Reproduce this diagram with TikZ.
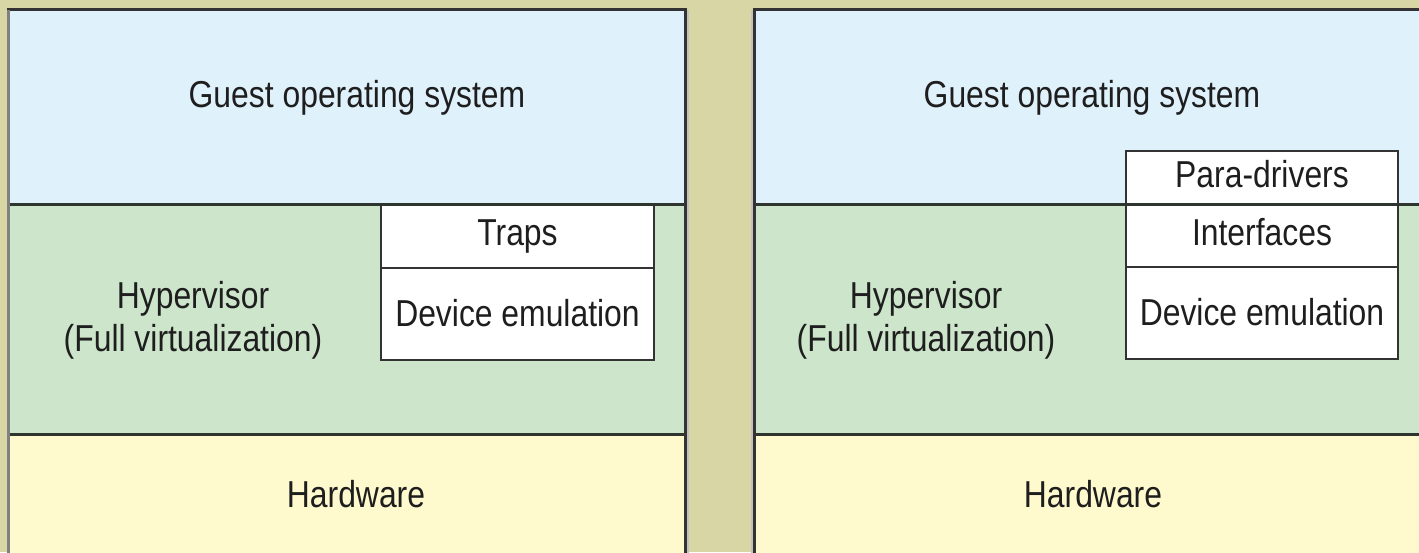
\documentclass[tikz,border=0pt]{standalone}
\usepackage{fontspec}
\setmainfont{Liberation Sans}[FakeStretch=0.85]
\usetikzlibrary{positioning}
\definecolor{bgsand}{HTML}{D9D6A5}
\definecolor{guestblue}{HTML}{DFF1FB}
\definecolor{hypgreen}{HTML}{CDE6CB}
\definecolor{hwyellow}{HTML}{FFFACD}
\definecolor{ruleline}{HTML}{2E352E}
\definecolor{boxline}{HTML}{333333}
\definecolor{rimgray}{HTML}{C2C2BC}
\definecolor{inkgray}{HTML}{1E1E1E}

\begin{document}
\begin{tikzpicture}[x=1pt, y=-1pt, node distance=0pt,
  font=\fontsize{37.5}{43}\selectfont,
  layer/.style={anchor=north west, inner sep=0pt, outer sep=0pt, minimum width=677pt},
  part/.style={fill=white, draw=boxline, line width=2.5pt, inner sep=0pt, outer sep=0pt,
    text height=27pt, text depth=8pt, text=inkgray},
  caption/.style={anchor=base, inner sep=0pt, text=inkgray, align=center},
  rule/.style={draw=ruleline, line width=3pt},
  rim/.style={draw=rimgray, line width=2.5pt}]
  \useasboundingbox (0,0) rectangle (1419,552);
  \fill[bgsand] (0,0) rectangle (1419,552);

  % full virtualization
  \node[layer, fill=guestblue, minimum height=194.5pt]  (guestL) at (8.5,9.5) {};
  \node[layer, fill=hypgreen,  minimum height=230pt]    (hypL) [below=of guestL] {};
  \node[layer, fill=hwyellow,  minimum height=140pt]    (hwL)  [below=of hypL]   {};

  \node[part, anchor=north west, minimum width=273pt, minimum height=64pt] (traps) at (381,204) {Traps};
  \node[part, text depth=3pt, minimum width=273pt, minimum height=92pt] (emuL) [below=of traps] {Device emulation};

  % para-virtualization
  \node[layer, fill=guestblue, minimum width=700pt, minimum height=194.5pt] (guestR) at (754.7,9.5) {};
  \node[layer, fill=hypgreen,  minimum width=700pt, minimum height=230pt]   (hypR) [below=of guestR] {};
  \node[layer, fill=hwyellow,  minimum width=700pt, minimum height=140pt]   (hwR)  [below=of hypR]   {};

  \node[part, anchor=north west, minimum width=272pt, minimum height=53pt] (para) at (1126,151) {Para-drivers};
  \node[part, minimum width=272pt, minimum height=63pt] (iface) [below=of para]  {Interfaces};
  \node[part, text depth=3pt, minimum width=272pt, minimum height=92pt] (emuR)  [below=of iface] {Device emulation};

  \path[rule] (guestL.south west) -- (guestL.south east)
              (hypL.south west)   -- (hypL.south east)
              (guestR.south west) -- (guestR.south east)
              (hypR.south west)   -- (hypR.south east);

  \draw[rim] ([xshift=2.5pt]guestL.north east) -- ([xshift=2.5pt]hwL.south east)
             ([xshift=-2.5pt]guestR.north west) -- ([xshift=-2.5pt]hwR.south west);
  \draw[boxline, line width=3pt] (guestL.north west) rectangle (hwL.south east)
                                 (guestR.north west) rectangle (hwR.south east);
  \draw[black!50, line width=3pt] (guestL.north west) -- (hwL.south west);

  \node[caption] (guestTxtL) at (357,107)  {Guest operating system};
  \node[caption] (hypTxtL)   at (193,351)  {Hypervisor\\(Full virtualization)};
  \node[caption] (hwTxtL)    at (356,507)  {Hardware};
  \node[caption] (guestTxtR) at (1092,107) {Guest operating system};
  \node[caption] (hypTxtR)   at (926,351)  {Hypervisor\\(Full virtualization)};
  \node[caption] (hwTxtR)    at (1093,507) {Hardware};
\end{tikzpicture}
\end{document}
